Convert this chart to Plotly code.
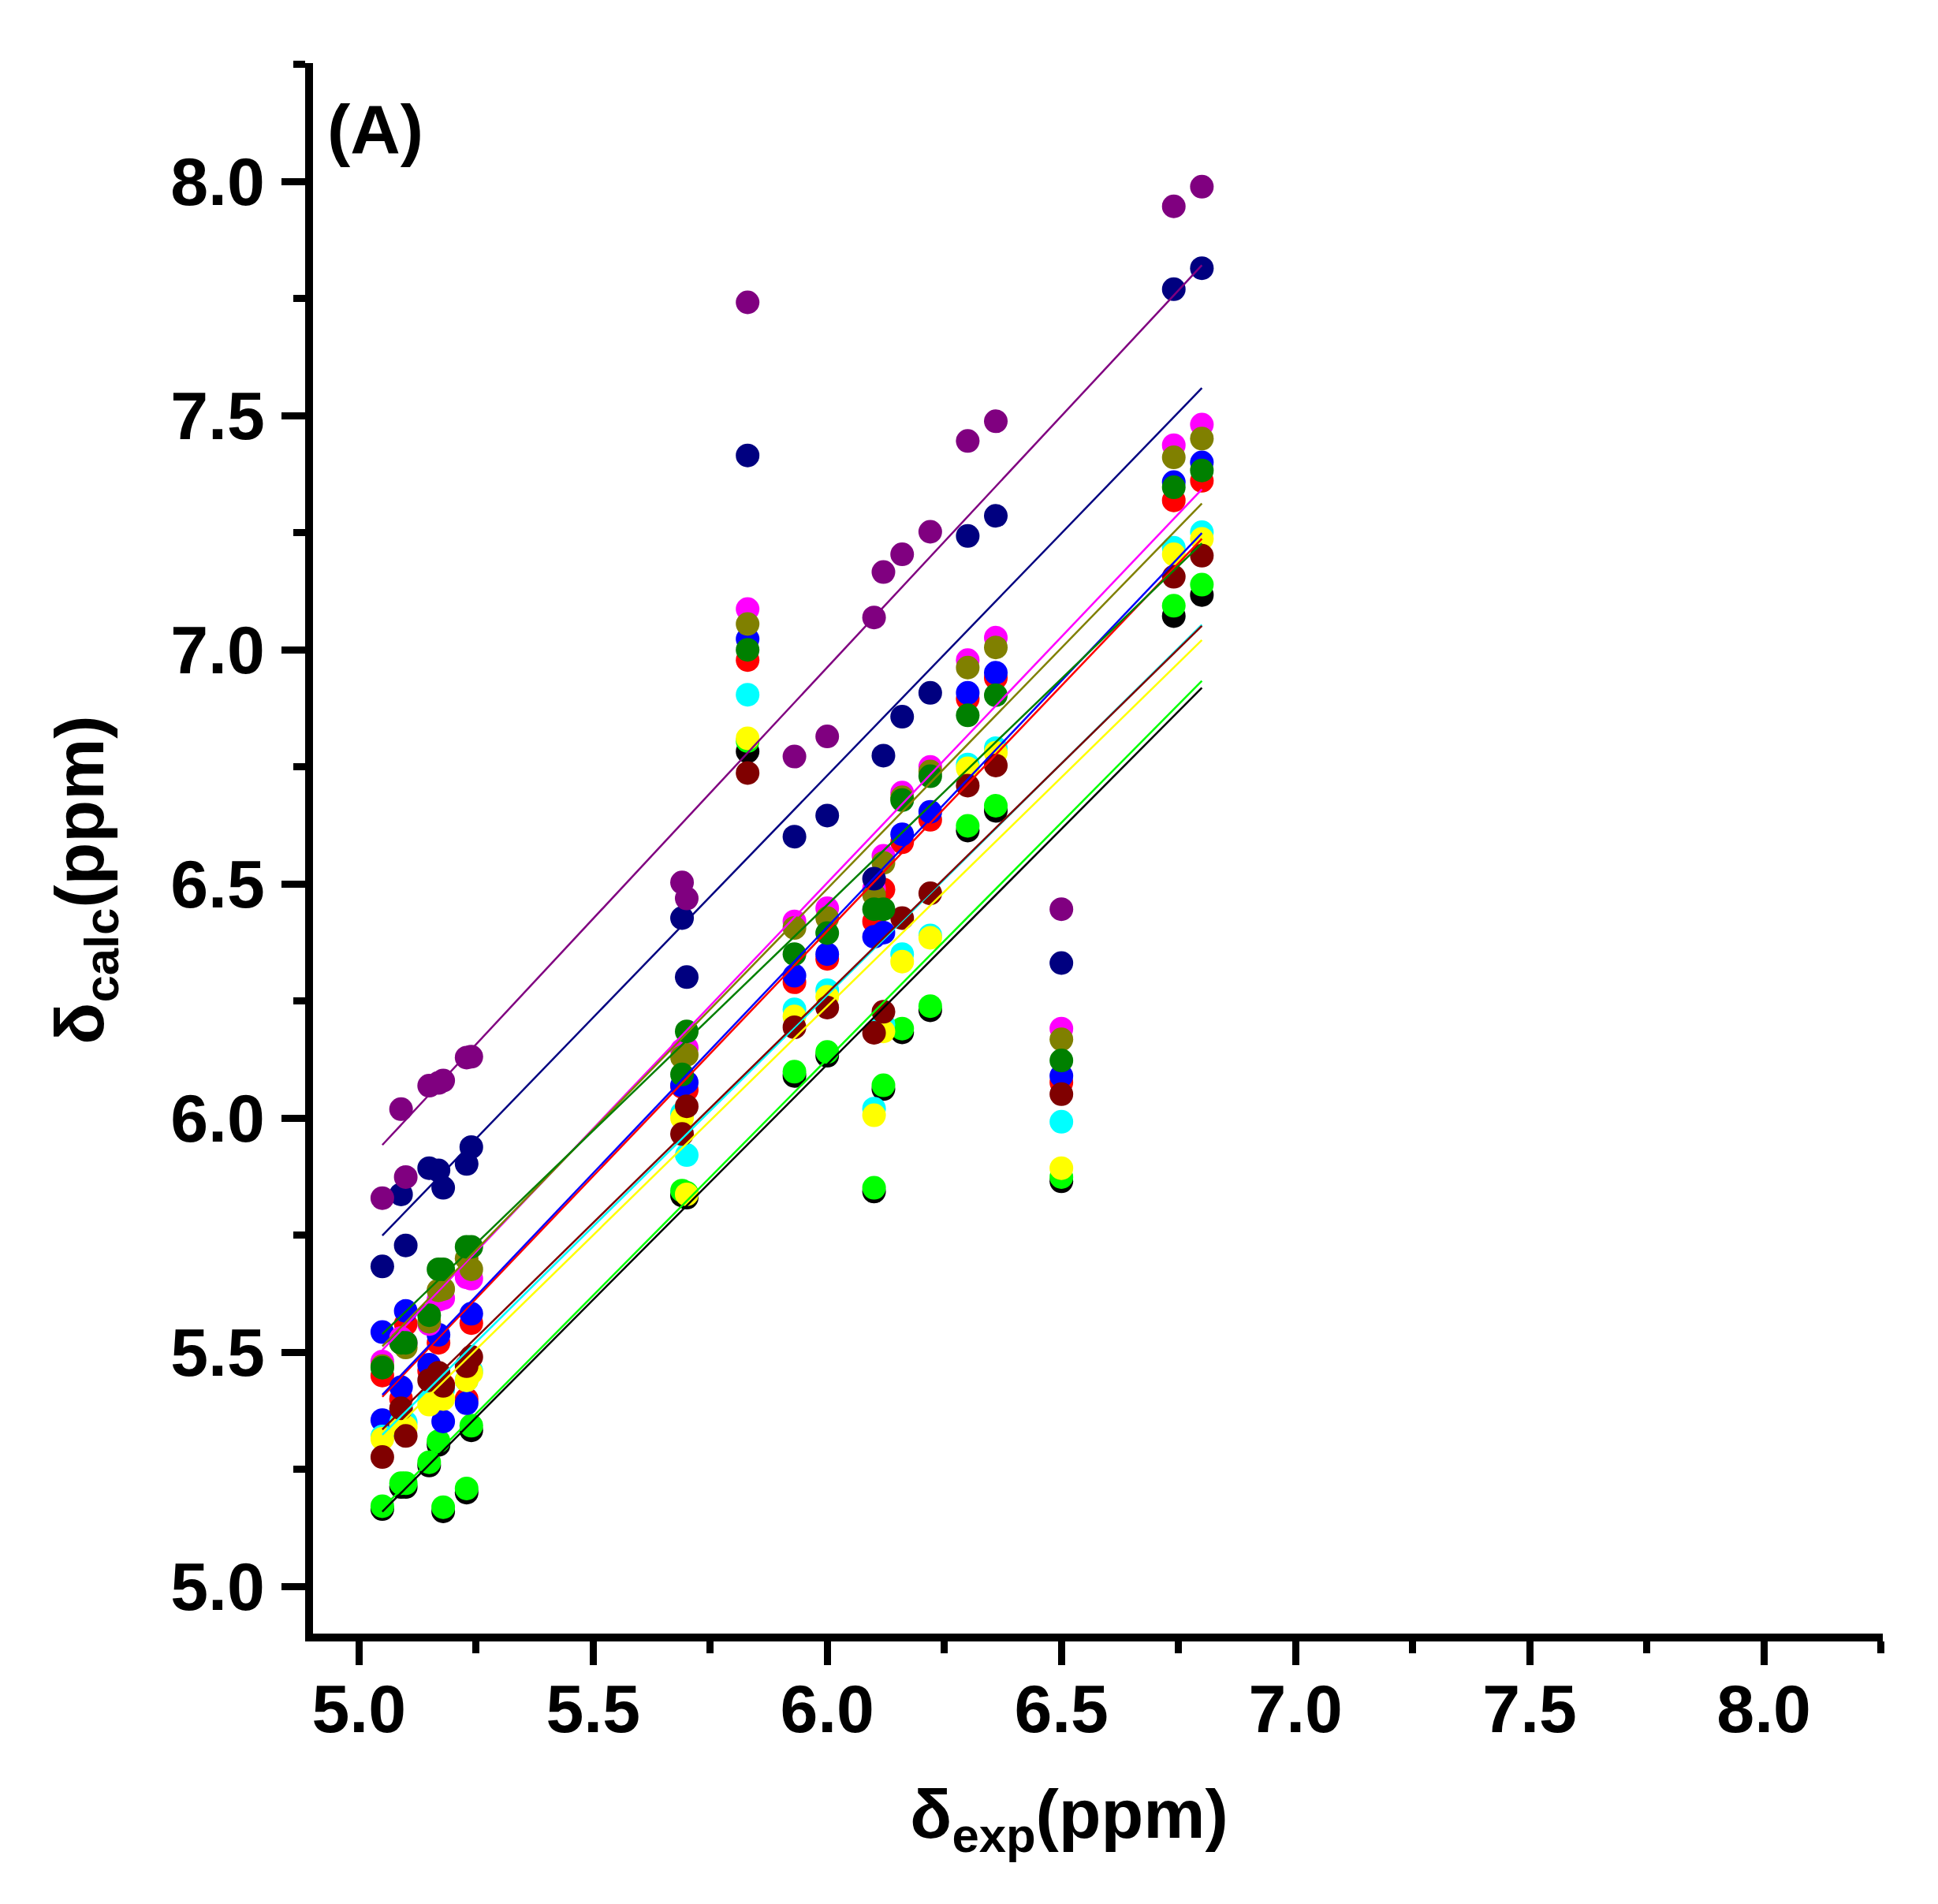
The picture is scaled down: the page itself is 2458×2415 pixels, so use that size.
import numpy as np
import plotly.graph_objects as go

# Experimental shifts (ppm), shared by all series
x_exp = [5.05, 5.09, 5.10, 5.15, 5.17, 5.18, 5.23, 5.24, 5.69, 5.70, 5.83,
         5.93, 6.00, 6.10, 6.12, 6.16, 6.22, 6.30, 6.36, 6.50, 6.74, 6.80]
x_blue = x_exp + [5.05]

# Calculated shifts (ppm), one list per series
y_black = [5.165, 5.212, 5.212, 5.258, 5.302, 5.16, 5.2, 5.333, 5.835, 5.83, 6.783,
           6.09, 6.133, 5.843, 6.062, 6.183, 6.23, 6.614, 6.656, 5.865, 7.072, 7.117]
y_red = [5.45, 5.40, 5.56, 5.46, 5.52, 5.43, 5.40, 5.562, 6.067, 6.06, 6.978,
         6.29, 6.34, 6.42, 6.488, 6.589, 6.637, 6.895, 6.94, 6.076, 7.319, 7.361]
y_lime = [5.171, 5.22, 5.22, 5.265, 5.310, 5.169, 5.209, 5.343, 5.845, 5.84, 6.805,
          6.099, 6.141, 5.851, 6.07, 6.191, 6.239, 6.624, 6.667, 5.874, 7.094, 7.139]
y_blue = [5.543, 5.425, 5.588, 5.473, 5.537, 5.352, 5.391, 5.582, 6.07, 6.076, 7.023,
          6.304, 6.35, 6.387, 6.396, 6.606, 6.654, 6.908, 6.951, 6.090, 7.358, 7.400, 5.355]
y_cyan = [5.32, 5.35, 5.35, 5.40, 5.44, 5.42, 5.44, 5.46, 6.01, 5.921, 6.904,
          6.232, 6.273, 6.02, 6.2, 6.35, 6.39, 6.755, 6.79, 5.992, 7.218, 7.251]
y_magenta = [5.48, 5.53, 5.52, 5.56, 5.612, 5.615, 5.66, 5.657, 6.145, 6.15, 7.087,
             6.42, 6.448, 6.49, 6.56, 6.695, 6.75, 6.978, 7.026, 6.191, 7.437, 7.481]
y_yellow = [5.315, 5.343, 5.34, 5.388, 5.43, 5.40, 5.44, 5.456, 6.0, 5.837, 6.811,
            6.217, 6.259, 6.006, 6.185, 6.334, 6.385, 6.747, 6.78, 5.893, 7.204, 7.237]
y_olive = [5.47, 5.52, 5.51, 5.565, 5.632, 5.635, 5.70, 5.677, 6.13, 6.135, 7.055,
           6.406, 6.427, 6.477, 6.545, 6.685, 6.74, 6.962, 7.005, 6.168, 7.411, 7.451]
y_navy = [5.683, 5.837, 5.728, 5.893, 5.888, 5.851, 5.902, 5.938, 6.427, 6.301, 7.415,
          6.601, 6.646, 6.511, 6.774, 6.857, 6.908, 7.243, 7.286, 6.331, 7.770, 7.815]
y_purple = [5.829, 6.019, 5.874, 6.069, 6.075, 6.080, 6.129, 6.131, 6.503, 6.469, 7.742,
            6.772, 6.815, 7.069, 7.166, 7.204, 7.252, 7.446, 7.488, 6.446, 7.947, 7.989]
y_maroon = [5.276, 5.38, 5.321, 5.44, 5.456, 5.428, 5.47, 5.49, 5.966, 6.025, 6.737,
            6.194, 6.236, 6.182, 6.227, 6.427, 6.48, 6.71, 6.753, 6.051, 7.156, 7.201]
y_green = [5.467, 5.52, 5.52, 5.579, 5.677, 5.677, 5.725, 5.725, 6.093, 6.185, 7.0,
           6.35, 6.395, 6.446, 6.446, 6.679, 6.73, 6.860, 6.903, 6.123, 7.347, 7.383]

tick_vals = [5.0, 5.5, 6.0, 6.5, 7.0, 7.5, 8.0]
tick_text = ["5.0", "5.5", "6.0", "6.5", "7.0", "7.5", "8.0"]

series = [
    ("black", x_exp, y_black, "#000000"),
    ("red", x_exp, y_red, "#FF0000"),
    ("lime", x_exp, y_lime, "#00FF00"),
    ("blue", x_blue, y_blue, "#0000FF"),
    ("cyan", x_exp, y_cyan, "#00FFFF"),
    ("magenta", x_exp, y_magenta, "#FF00FF"),
    ("yellow", x_exp, y_yellow, "#FFFF00"),
    ("olive", x_exp, y_olive, "#808000"),
    ("navy", x_exp, y_navy, "#000080"),
    ("purple", x_exp, y_purple, "#800080"),
    ("maroon", x_exp, y_maroon, "#800000"),
    ("green", x_exp, y_green, "#008000"),
]

FONT = "Liberation Sans, Arial"

fig = go.Figure()

for name, xs, ys, col in series:
    fig.add_trace(go.Scatter(
        x=xs, y=ys, mode="markers", name=name, showlegend=False,
        marker=dict(size=30, color=col, line=dict(width=0)),
    ))

for name, xs, ys, col in series:
    b, a = np.polyfit(xs, ys, 1)
    xf = np.array([min(xs), max(xs)])
    fig.add_trace(go.Scatter(
        x=xf, y=a + b * xf, mode="lines", name=name + " fit", showlegend=False,
        line=dict(color=col, width=2.5),
    ))

axis_common = dict(
    showline=True, linecolor="black", linewidth=10, mirror=False,
    showgrid=False, zeroline=False,
    ticks="outside", ticklen=30, tickwidth=9, tickcolor="black",
    tickvals=tick_vals, ticktext=tick_text,
    tickfont=dict(family=FONT, size=86, color="black", weight="bold"),
    minor=dict(ticks="outside", ticklen=15, tickwidth=9, tickcolor="black",
               tick0=5.0, dtick=0.25, showgrid=False),
)

fig.update_layout(
    width=2458, height=2415,
    margin=dict(l=389, r=78, t=72, b=351),
    paper_bgcolor="white", plot_bgcolor="white",
    xaxis=dict(range=[4.902, 8.254], **axis_common),
    yaxis=dict(range=[4.899, 8.253], ticklabelstandoff=4, **axis_common),
    annotations=[
        dict(text="(A)", x=0.0397, y=0.9583, xref="paper", yref="paper",
             xanchor="center", yanchor="middle", showarrow=False,
             font=dict(family=FONT, size=88, color="black", weight="bold")),
        dict(text="δ<sub>exp</sub>(ppm)", x=0.4817, y=-0.1175, xref="paper", yref="paper",
             xanchor="center", yanchor="middle", showarrow=False,
             font=dict(family=FONT, size=88, color="black", weight="bold")),
        dict(text="δ<sub>calc</sub>(ppm)", x=-0.1456, y=0.4800, xref="paper", yref="paper",
             xanchor="center", yanchor="middle", showarrow=False, textangle=-90,
             font=dict(family=FONT, size=88, color="black", weight="bold")),
    ],
)

try:
    fig.update_xaxes(ticklabelstandoff=-18)
except ValueError:
    fig.update_xaxes(ticklabelstandoff=0)

fig.write_html("out.html")
